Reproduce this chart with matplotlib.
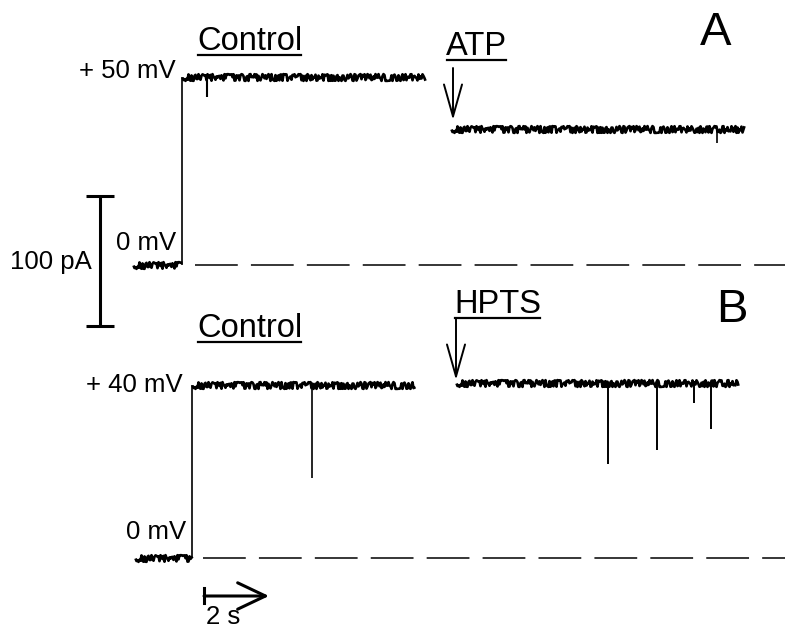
import numpy as np
import matplotlib
matplotlib.use('Agg')
import matplotlib.pyplot as plt
from matplotlib.lines import Line2D
from matplotlib.transforms import IdentityTransform

plt.rcParams['font.family'] = ['Liberation Sans', 'DejaVu Sans']

# recording scale: pixels per second / per pA, and page offsets
px_s = 32.5
px_pa = 1.3
x0_px = 133
a_base_px = 265
b_base_px = 558
b_shift = (b_base_px - a_base_px) / px_pa   # trace B sits below trace A

# ---- trace A : step 0 -> +50 mV, then ATP ----
a_hold_t = [0.0, 1.51]
a_ctrl_t = [1.51, 8.98]
a_ctrl_i = 145.0
a_ctrl_dip_t = [2.28]
a_ctrl_dip_i = [129.0]
a_atp_t = [9.78, 18.8]
a_atp_i = 105.0
a_atp_dip_t = [17.97]
a_atp_dip_i = [94.0]

# ---- trace B : step 0 -> +40 mV, then HPTS ----
b_hold_t = [0.06, 1.82]
b_ctrl_t = [1.82, 8.68]
b_ctrl_i = 133.0
b_ctrl_spike_t = [5.51]
b_ctrl_spike_i = [61.5]
b_hpts_t = [9.94, 18.62]
b_hpts_i = 134.6
b_hpts_spike_t = [14.62, 16.12, 17.26, 17.78]
b_hpts_spike_i = [72.0, 83.0, 119.0, 99.0]


def pos(xp, yp):
    # page position (pixels) -> axes units, used only for labels / scale bars
    return (xp - x0_px) / px_s, (a_base_px - yp) / px_pa


fig = plt.figure(figsize=(7.85, 6.3), dpi=100)
ax = fig.add_axes([0, 0, 1, 1])
ax.set_xlim(-x0_px / px_s, (785 - x0_px) / px_s)
ax.set_ylim((a_base_px - 630) / px_pa, a_base_px / px_pa)
ax.axis('off')


def flat(t, level, off):
    ln, = ax.plot(t, [level - off, level - off], color='k', lw=1.9,
                  solid_capstyle='butt')
    # recording noise is only a drawing style here
    ln.set_sketch_params(scale=3.4, length=0.3, randomness=25)


def spikes(ts, lows, level, off, lw=1.2):
    ax.vlines(ts, np.array(lows) - off, level - off, color='k', lw=lw)


# trace A
flat(a_hold_t, 0.0, 0.0)
ax.vlines(a_ctrl_t[0], 0.0, a_ctrl_i, color='k', lw=1.2)
flat(a_ctrl_t, a_ctrl_i, 0.0)
spikes(a_ctrl_dip_t, a_ctrl_dip_i, a_ctrl_i, 0.0, lw=1.5)
flat(a_atp_t, a_atp_i, 0.0)
spikes(a_atp_dip_t, a_atp_dip_i, a_atp_i, 0.0, lw=1.2)

# trace B
flat(b_hold_t, 0.0, b_shift)
ax.vlines(b_ctrl_t[0], -b_shift, b_ctrl_i - b_shift, color='k', lw=1.2)
flat(b_ctrl_t, b_ctrl_i, b_shift)
spikes(b_ctrl_spike_t, b_ctrl_spike_i, b_ctrl_i, b_shift)
flat(b_hpts_t, b_hpts_i, b_shift)
spikes(b_hpts_spike_t, b_hpts_spike_i, b_hpts_i, b_shift, lw=1.4)

# zero-current lines
xr = ax.get_xlim()[1]
ax.plot([pos(195, 0)[0], xr], [0, 0], color='k', lw=1.1, dashes=(28, 8.6))
ax.plot([pos(203, 0)[0], xr], [-b_shift, -b_shift], color='k', lw=1.1,
        dashes=(28, 8.6))

# 100 pA scale bar
sx, sy = pos(100, 326)
ax.plot([sx, sx], [sy, sy + 100], color='k', lw=2.2, marker='_', ms=20,
        mew=2.2, solid_capstyle='butt')

# 2 s scale arrow
tx, ty = pos(204, 596)
ax.plot([tx, tx], [pos(0, 588)[1], pos(0, 603)[1]], color='k', lw=2.2)
ax.annotate('', xy=(tx + 2.0, ty), xytext=(tx, ty),
            arrowprops=dict(arrowstyle='->,head_length=2.0,head_width=0.95',
                            mutation_scale=10, lw=2.2, color='k',
                            shrinkA=0, shrinkB=0))

# drug application arrows
for xp, y_tail, y_tip in [(453, 68, 120), (456, 318, 380)]:
    ax.annotate('', xy=pos(xp, y_tip), xytext=pos(xp, y_tail),
                arrowprops=dict(arrowstyle='->,head_length=2.3,head_width=0.65',
                                mutation_scale=10, lw=1.4, color='k',
                                shrinkA=0, shrinkB=0))

# labels: text, x, y (baseline), ha, size, underline
labels = [
    ('Control', 197, 50, 'left', 23.5, True),
    ('ATP', 446, 55, 'left', 23.5, True),
    ('A', 700, 45, 'left', 34, False),
    ('+ 50 mV', 176, 78, 'right', 18.5, False),
    ('0 mV', 176, 250, 'right', 18.5, False),
    ('100 pA', 92, 269, 'right', 18.5, False),
    ('Control', 197, 337, 'left', 23.5, True),
    ('HPTS', 454, 313, 'left', 23.5, True),
    ('B', 716, 322, 'left', 34, False),
    ('+ 40 mV', 183, 392, 'right', 18.5, False),
    ('0 mV', 186, 539, 'right', 18.5, False),
]
texts = []
for s, xp, yp, ha, fs, ul in labels:
    t = ax.text(*pos(xp, yp), s, ha=ha, va='baseline', fontsize=fs)
    texts.append((t, ul))
# time label sits at the bottom edge
ax.text(*pos(206, 629), '2 s', ha='left', va='bottom', fontsize=18.5)

fig.canvas.draw()
for t, ul in texts:
    if ul:
        bb = t.get_window_extent()
        fig.add_artist(Line2D([bb.x0 + 1, bb.x1 - 1], [bb.y0 + 2, bb.y0 + 2],
                              transform=IdentityTransform(), color='k',
                              lw=1.6))

fig.savefig('out.png', dpi=100)
